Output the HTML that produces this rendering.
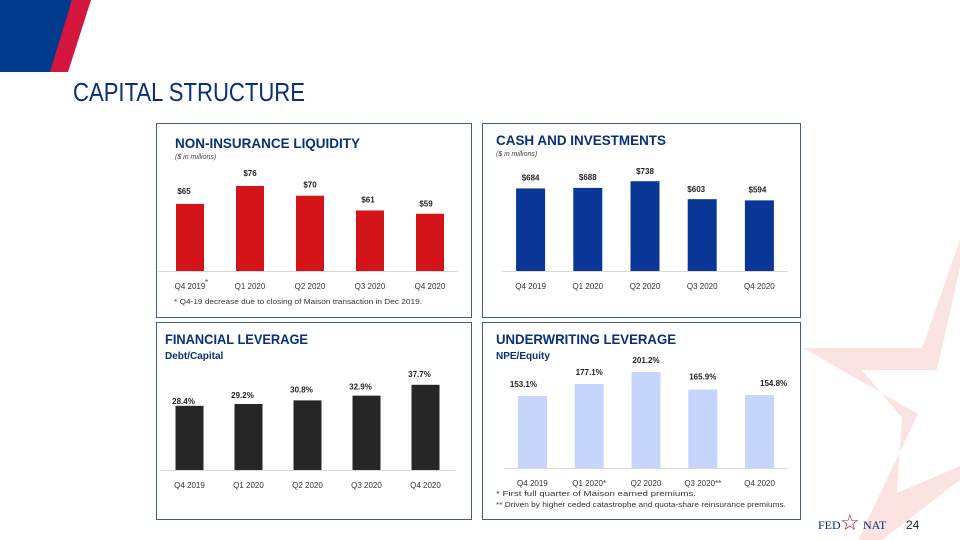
<!DOCTYPE html>
<html><head><meta charset="utf-8"><style>
body{margin:0;width:960px;height:540px;overflow:hidden;background:#fff;font-family:"Liberation Sans",sans-serif}
svg{display:block}
text{font-family:"Liberation Sans",sans-serif}
</style></head><body>
<svg id="s" width="960" height="540" viewBox="0 0 960 540">
<polygon points="0,0 72,0 52,72 0,72" fill="#003a8c"/>
<polygon points="72,0 91,0 68,72 50,72" fill="#d4163f"/>
<polygon points="960,240 922,348 803,348 918,414 858,540 882,540 960,480 960,466 897,493 902,418 862,370 937,370 960,268" fill="#fbe3e1"/>
<text x="73" y="101" font-size="26" fill="#0a2f7a" textLength="232" lengthAdjust="spacingAndGlyphs">CAPITAL STRUCTURE</text>
<rect x="156.5" y="123.5" width="315" height="194" fill="#fff" stroke="#3c5f8f"/>
<rect x="482.5" y="123.5" width="318" height="194" fill="#fff" stroke="#3c5f8f"/>
<rect x="156.5" y="322.5" width="315" height="197" fill="#fff" stroke="#3c5f8f"/>
<rect x="482.5" y="322.5" width="318" height="197" fill="#fff" stroke="#3c5f8f"/>
<text x="175" y="148" font-size="14" font-weight="bold" fill="#0a2f7a" textLength="185" lengthAdjust="spacingAndGlyphs">NON-INSURANCE LIQUIDITY</text>
<text x="175" y="159" font-size="7" font-style="italic" fill="#444">($ in millions)</text>
<text x="496" y="145" font-size="14" font-weight="bold" fill="#0a2f7a" textLength="170" lengthAdjust="spacingAndGlyphs">CASH AND INVESTMENTS</text>
<text x="496" y="156" font-size="7" font-style="italic" fill="#444">($ in millions)</text>
<text x="165" y="344" font-size="14" font-weight="bold" fill="#0a2f7a" textLength="143" lengthAdjust="spacingAndGlyphs">FINANCIAL LEVERAGE</text>
<text x="165" y="359" font-size="10" font-weight="bold" fill="#0a2f7a">Debt/Capital</text>
<text x="496" y="344" font-size="14" font-weight="bold" fill="#0a2f7a" textLength="180" lengthAdjust="spacingAndGlyphs">UNDERWRITING LEVERAGE</text>
<text x="496" y="359" font-size="10" font-weight="bold" fill="#0a2f7a">NPE/Equity</text>
<text x="174" y="304" font-size="7.5" fill="#333" textLength="248" lengthAdjust="spacingAndGlyphs">* Q4-19 decrease due to closing of Maison transaction in Dec 2019.</text>
<text x="205" y="285" font-size="8" fill="#333">*</text>
<text x="496" y="496" font-size="7.5" fill="#333" textLength="200" lengthAdjust="spacingAndGlyphs">*    First full quarter of Maison earned premiums.</text>
<text x="496" y="507" font-size="7.5" fill="#333" textLength="290" lengthAdjust="spacingAndGlyphs">**  Driven by higher ceded catastrophe and quota-share reinsurance premiums.</text>
<text x="818" y="529" font-size="12" fill="#0a2f7a" style="font-family:'Liberation Serif',serif">FED</text>
<text x="840" y="530" font-size="22" fill="#c0172f">☆</text>
<text x="863" y="529" font-size="12" fill="#0a2f7a" style="font-family:'Liberation Serif',serif">NAT</text>
<text x="906" y="529" font-size="12" fill="#222">24</text>
</svg>
<script>
const liqCats=["Q4 2019","Q1 2020","Q2 2020","Q3 2020","Q4 2020"];
const liqVals=[65,76,70,61,59];
const liqLabels=["$65","$76","$70","$61","$59"];
const cashCats=["Q4 2019","Q1 2020","Q2 2020","Q3 2020","Q4 2020"];
const cashVals=[684,688,738,603,594];
const cashLabels=["$684","$688","$738","$603","$594"];
const flCats=["Q4 2019","Q1 2020","Q2 2020","Q3 2020","Q4 2020"];
const flVals=[28.4,29.2,30.8,32.9,37.7];
const flLabels=["28.4%","29.2%","30.8%","32.9%","37.7%"];
const uwCats=["Q4 2019","Q1 2020*","Q2 2020","Q3 2020**","Q4 2020"];
const uwVals=[153.1,177.1,201.2,165.9,154.8];
const uwLabels=["153.1%","177.1%","201.2%","165.9%","154.8%"];
const NS="http://www.w3.org/2000/svg";
const svg=document.getElementById('s');
function mk(tag,attrs){const e=document.createElementNS(NS,tag);for(const k in attrs)e.setAttribute(k,attrs[k]);svg.appendChild(e);return e;}
function chart(id,cats,vals,labels,o){
  const step=(o.x1-o.x0)/cats.length;
  const y=v=>o.base-(v-o.min)*o.k;
  const ax=mk('line',{x1:o.ax0,x2:o.ax1,y1:o.base+0.5,y2:o.base+0.5,stroke:'#d9d9d9'});
  
  
  cats.forEach((c,i)=>{
    const cx=o.x0+step*(i+0.5);
    const yt=y(vals[i]);
    const r=mk('rect',{x:cx-o.w/2,y:yt,width:o.w,height:o.base-yt,fill:o.color});
    
    
    const t=mk('text',{x:cx+(o.lx?o.lx[i]:0),y:yt-(o.ly?o.ly[i]:6),'font-size':8,'font-weight':'bold','text-anchor':'middle',fill:'#222'});
    t.textContent=labels[i];
    
    
    const tl=mk('text',{x:cx,y:o.base+18,'font-size':8,'text-anchor':'middle',fill:'#333'});
    tl.textContent=c;
    
    
  });
}
chart('liquidity',liqCats,liqVals,liqLabels,{x0:160,x1:460,ax0:158,ax1:458,base:271,min:24,k:1.636,w:28,color:'#d41418',lx:[-6,0,0,-2,-4],ly:[10,10,8,8,7]});
chart('cash',cashCats,cashVals,cashLabels,{x0:502,x1:788,ax0:502,ax1:788,base:271,min:63,k:0.133,w:29,color:'#0a3697',lx:[0,0,0,-6,-2],ly:[8,8,7,7,8]});
chart('financial-leverage',flCats,flVals,flLabels,{x0:160,x1:455,ax0:161,ax1:455,base:470,min:0,k:2.26,w:28,color:'#262626',lx:[-6,-6,-6,-6,-6],ly:[2,6,8,6,8]});
chart('underwriting-leverage',uwCats,uwVals,uwLabels,{x0:504,x1:788,ax0:504,ax1:788,base:468,min:9,k:0.5,w:29,color:'#c5d5fb',lx:[-9,0,0,0,14],ly:[9,9,9,10,9]});
</script>
</body></html>
